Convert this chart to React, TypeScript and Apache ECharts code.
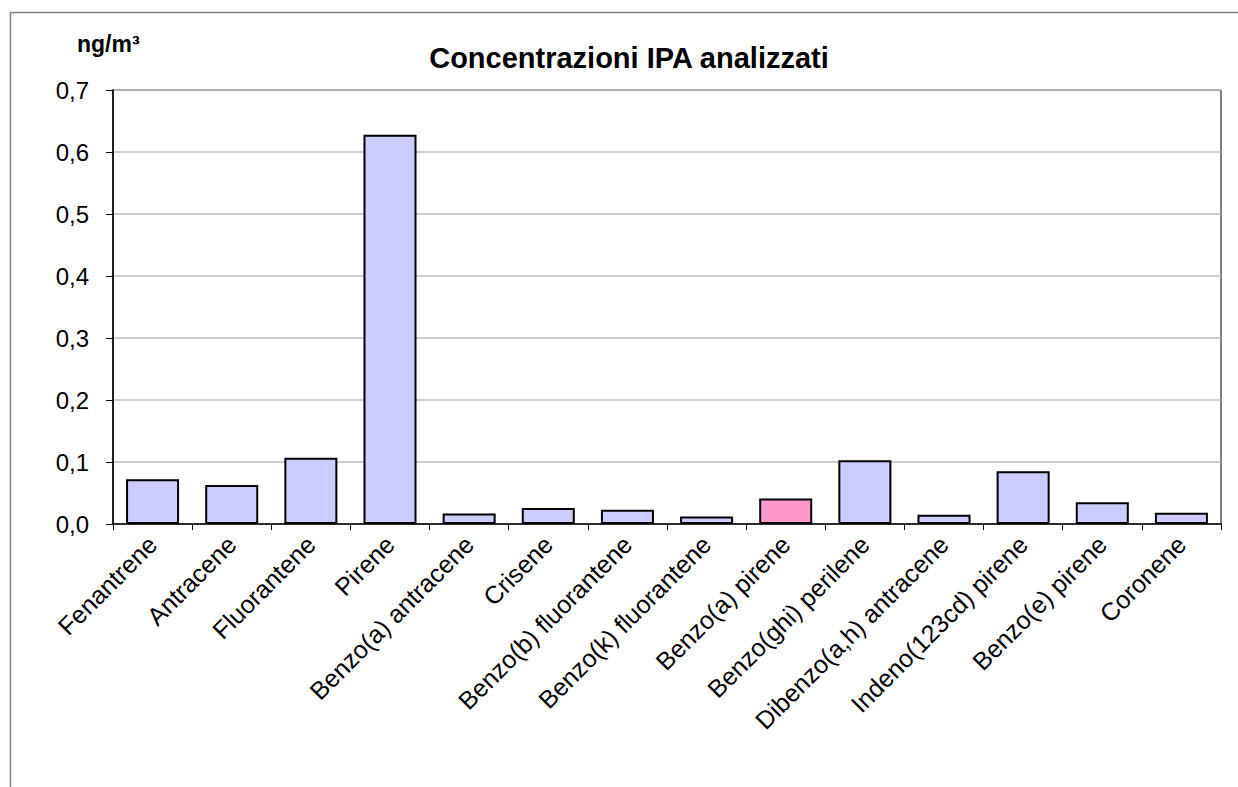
import React, { useEffect, useRef } from "react";
import * as echarts from "echarts";

const categories: string[] = [
  "Fenantrene",
  "Antracene",
  "Fluorantene",
  "Pirene",
  "Benzo(a) antracene",
  "Crisene",
  "Benzo(b) fluorantene",
  "Benzo(k) fluorantene",
  "Benzo(a) pirene",
  "Benzo(ghi) perilene",
  "Dibenzo(a,h) antracene",
  "Indeno(123cd) pirene",
  "Benzo(e) pirene",
  "Coronene",
];

const concentrations: number[] = [
  0.072, 0.063, 0.107, 0.628, 0.017, 0.026, 0.023, 0.012, 0.041, 0.103,
  0.015, 0.085, 0.035, 0.018,
];

const highlighted: string[] = ["Benzo(a) pirene"];

const yTicks: number[] = [0, 0.1, 0.2, 0.3, 0.4, 0.5, 0.6, 0.7];

const titleText = "Concentrazioni IPA analizzati";
const unitText = "ng/m³";

const FONT = '"Liberation Sans", Arial, Helvetica, sans-serif';

export default function App() {
  const ref = useRef<HTMLDivElement>(null);

  useEffect(() => {
    if (!ref.current) return;
    const chart = echarts.init(ref.current, undefined, { renderer: "svg" });
    const option: any = {
      animation: false,
      backgroundColor: "#ffffff",
      textStyle: { fontFamily: FONT },
      grid: {
        left: 113,
        right: 17,
        top: 90,
        bottom: 263,
        show: true,
        borderColor: "#000000",
        borderWidth: 1,
        backgroundColor: "transparent",
      },
      graphic: [
        {
          type: "rect",
          shape: { x: 10.5, y: 12.5, width: 1400, height: 900 },
          style: { fill: "none", stroke: "#808080", lineWidth: 1.5 },
          silent: true,
        },
        {
          type: "text",
          x: 629,
          y: 58,
          style: {
            text: titleText,
            font: `bold 29px ${FONT}`,
            fill: "#000",
            align: "center",
            verticalAlign: "middle",
          },
        },
        {
          type: "text",
          x: 77,
          y: 44,
          style: {
            text: unitText,
            font: `bold 23px ${FONT}`,
            fill: "#000",
            align: "left",
            verticalAlign: "middle",
          },
        },
      ],
      xAxis: {
        type: "category",
        data: categories,
        boundaryGap: true,
        axisLine: { show: true, lineStyle: { color: "#000", width: 1.5 } },
        axisTick: {
          show: true,
          alignWithLabel: false,
          length: 6,
          lineStyle: { color: "#000", width: 1 },
        },
        axisLabel: {
          interval: 0,
          rotate: 45,
          margin: 16,
          color: "#000",
          fontSize: 25,
          fontFamily: FONT,
        },
        splitLine: { show: false },
      },
      yAxis: {
        type: "value",
        min: 0,
        max: 0.7,
        interval: 0.1,
        axisLine: { show: true, lineStyle: { color: "#000", width: 1.5 } },
        axisTick: { show: true, length: 7, lineStyle: { color: "#000" } },
        axisLabel: {
          color: "#000",
          fontSize: 24,
          fontFamily: FONT,
          margin: 24,
          formatter: (v: number) => {
            const t = yTicks.find((k) => Math.abs(k - v) < 1e-9);
            return (t ?? v).toFixed(1).replace(".", ",");
          },
        },
        splitLine: { show: true, lineStyle: { color: "#bdbdbd", width: 1.5 } },
      },
      series: [
        {
          type: "bar",
          data: categories.map((c, i) => ({
            value: concentrations[i],
            itemStyle: {
              color: highlighted.includes(c) ? "#FF99CC" : "#CCCCFF",
            },
          })),
          barCategoryGap: "33%",
          itemStyle: { borderColor: "#000", borderWidth: 2 },
        },
      ],
    };
    chart.setOption(option);
    return () => chart.dispose();
  }, []);

  return (
    <div
      ref={ref}
      style={{ position: "absolute", left: 0, top: 0, width: 1238, height: 787 }}
    />
  );
}
